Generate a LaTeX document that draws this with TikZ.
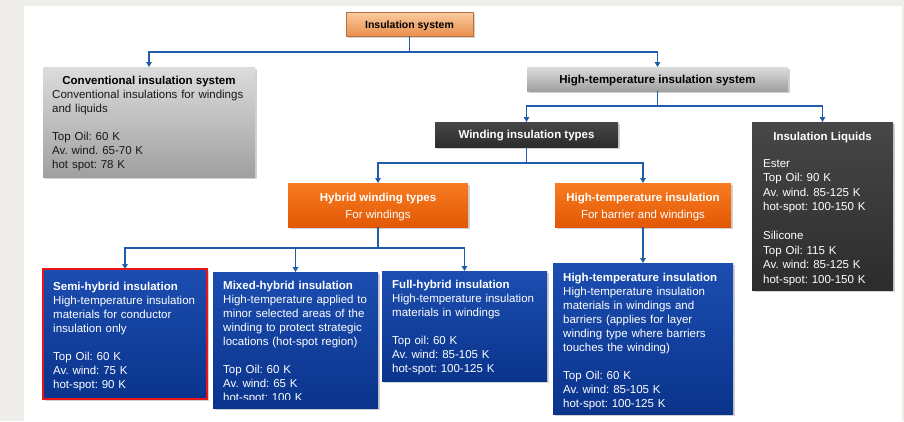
\documentclass[tikz,border=0pt]{standalone}
\usepackage{fontspec}
\setmainfont{Liberation Sans}
\usetikzlibrary{shadows,arrows.meta}
\frenchspacing
\definecolor{bgc}{HTML}{EEEDE9}
\definecolor{connc}{HTML}{1F5CAB}
\definecolor{blueT}{HTML}{1C4DB0}
\definecolor{blueB}{HTML}{0A348C}
\definecolor{oraT}{HTML}{F87C22}
\definecolor{oraB}{HTML}{E25804}
\definecolor{peachT}{HTML}{FBCBA0}
\definecolor{peachB}{HTML}{E98F4C}
\definecolor{greyT}{HTML}{DCDCDC}
\definecolor{greyB}{HTML}{A0A0A0}
\definecolor{darkT}{HTML}{474747}
\definecolor{darkB}{HTML}{2C2C2C}
\definecolor{redb}{HTML}{E8141C}
\newcommand{\fstrut}{\rule{0pt}{11pt}}
\tikzset{
  bx/.style={inner sep=0pt, outer sep=0pt, anchor=north west,
    drop shadow={opacity=0.35, shadow xshift=1.5pt, shadow yshift=-1.5pt}},
  bluebx/.style={bx, top color=blueT, bottom color=blueB},
  orabx/.style={bx, top color=oraT, bottom color=oraB},
  peachbx/.style={bx, top color=peachT, bottom color=peachB, draw=peachB!80!black, line width=0.6pt},
  greybx/.style={bx, top color=greyT, bottom color=greyB},
  darkbx/.style={bx, top color=darkT, bottom color=darkB},
  bodytext/.style={anchor=north west, inner sep=0pt, align=left, text width=#1,
    font=\fontsize{11.5}{14}\selectfont},
  titletext/.style={anchor=base, inner sep=0pt, font=\fontsize{11.5}{14}\selectfont\bfseries},
  conn/.style={draw=connc, line width=1.5pt, -{Triangle[width=5.5pt,length=5pt]}}
}
\begin{document}
\begin{tikzpicture}[x=1pt,y=-1pt]
\useasboundingbox (0,0) rectangle (904,421);
\fill[bgc] (0,0) rectangle (904,421);
\fill[white] (24,6) rectangle (902,421);

% boxes
\node[peachbx, minimum width=127pt, minimum height=24pt] (ins) at (346,12) {};
\node[greybx, minimum width=212pt, minimum height=110pt] (conv) at (43,67) {};
\node[greybx, minimum width=261pt, minimum height=24pt] (hts) at (527,67) {};
\node[darkbx, minimum width=183pt, minimum height=25pt] (wit) at (435,122) {};
\node[darkbx, minimum width=141pt, minimum height=168pt] (liq) at (752,122) {};
\node[orabx, minimum width=180pt, minimum height=44pt] (hyb) at (288,183) {};
\node[orabx, minimum width=176pt, minimum height=44pt] (hto) at (555,183) {};
\node[bluebx, minimum width=164pt, minimum height=130pt, draw=redb, line width=2.2pt] (semi) at (43,269) {};
\node[bluebx, minimum width=165pt, minimum height=136pt] (mixed) at (213,272) {};
\node[bluebx, minimum width=165pt, minimum height=110pt] (full) at (382,271) {};
\node[bluebx, minimum width=180pt, minimum height=151pt] (htb) at (553,263) {};

% connectors
\draw[conn] (ins.south) -- ++(0,16) -| (conv.north);
\draw[conn] (ins.south) -- ++(0,16) -| (hts.north);
\draw[conn] (hts.south) -- ++(0,15) -| (wit.north);
\draw[conn] (hts.south) -- ++(0,15) -| (liq.north);
\draw[conn] (wit.south) -- ++(0,16) -| (hyb.north);
\draw[conn] (wit.south) -- ++(0,16) -| (hto.north);
\draw[conn] (hyb.south) -- ++(0,21) -| (semi.north);
\draw[conn] (hyb.south) -- ++(0,21) -| (mixed.north);
\draw[conn] (hyb.south) -- ++(0,21) -| (full.north);
\draw[conn] (hto.south) -- (htb.north);

% texts
\node[titletext, font=\fontsize{10.5}{13}\selectfont\bfseries] (tins) at (409.5,28) {Insulation system};
\node[titletext] (tconv) at (149,84) {Conventional insulation system};
\node[bodytext=200pt, text=black!90] (bconv) at (52,87) {\fstrut Conventional insulations for windings\\ and liquids\\[14pt] Top Oil: 60 K\\ Av. wind. 65-70 K\\ hot spot: 78 K};
\node[titletext] (thts) at (657.5,83) {High-temperature insulation system};
\node[titletext, text=white] (twit) at (526.5,138) {Winding insulation types};
\node[titletext, text=white] (tliq) at (822.5,140) {Insulation Liquids};
\node[bodytext=125pt, text=white, font=\fontsize{11.5}{14.5}\selectfont] (bliq) at (763,156) {\fstrut Ester\\ Top Oil: 90 K\\ Av. wind. 85-125 K\\ hot-spot: 100-150 K\\[14.5pt] Silicone\\ Top Oil: 115 K\\ Av. wind: 85-125 K\\ hot-spot: 100-150 K};
\node[titletext, text=white] (thyb) at (378,201) {Hybrid winding types};
\node[titletext, text=white, font=\fontsize{11.5}{14}\selectfont] (shyb) at (378,218) {For windings};
\node[titletext, text=white] (thto) at (643,201) {High-temperature insulation};
\node[titletext, text=white, font=\fontsize{11.5}{14}\selectfont] (shto) at (643,218) {For barrier and windings};
\node[bodytext=152pt, text=white] (bsemi) at (53,279) {\fstrut\textbf{Semi-hybrid insulation}\\ High-temperature insulation\\ materials for conductor\\ insulation only\\[14pt] Top Oil: 60 K\\ Av. wind: 75 K\\ hot-spot: 90 K};
\begin{scope}
\clip (mixed.north west) rectangle ([yshift=9pt]mixed.south east);
\node[bodytext=152pt, text=white] (bmixed) at (223,278) {\fstrut\textbf{Mixed-hybrid insulation}\\ High-temperature applied to\\ minor selected areas of the\\ winding to protect strategic\\ locations (hot-spot region)\\[14pt] Top Oil: 60 K\\ Av. wind: 65 K\\ hot-spot: 100 K};
\end{scope}
\node[bodytext=152pt, text=white] (bfull) at (392,277) {\fstrut\textbf{Full-hybrid insulation}\\ High-temperature insulation\\ materials in windings\\[14pt] Top oil: 60 K\\ Av. wind: 85-105 K\\ hot-spot: 100-125 K};
\node[bodytext=168pt, text=white] (bhtb) at (563,270) {\fstrut\textbf{High-temperature insulation}\\ High-temperature insulation\\ materials in windings and\\ barriers (applies for layer\\ winding type where barriers\\ touches the winding)\\[14pt] Top Oil: 60 K\\ Av. wind: 85-105 K\\ hot-spot: 100-125 K};
\end{tikzpicture}
\end{document}
